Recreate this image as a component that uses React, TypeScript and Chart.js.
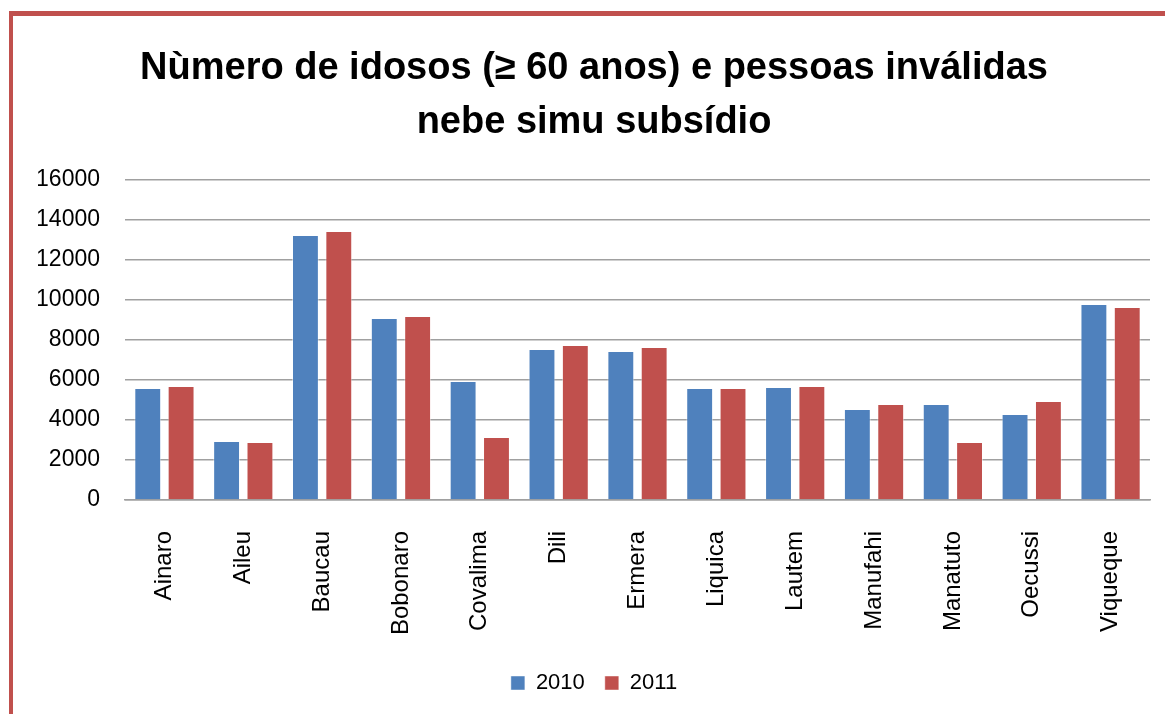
import React, { useEffect, useRef } from "react";
import { Chart, registerables } from "chart.js";

Chart.register(...registerables);

const categories = [
  "Ainaro", "Aileu", "Baucau", "Bobonaro", "Covalima", "Dili", "Ermera",
  "Liquica", "Lautem", "Manufahi", "Manatuto", "Oecussi", "Viqueque",
];
const values2010 = [5600, 2950, 13250, 9100, 5950, 7550, 7450, 5600, 5650, 4550, 4800, 4300, 9800];
const values2011 = [5700, 2900, 13450, 9200, 3150, 7750, 7650, 5600, 5700, 4800, 2900, 4950, 9650];
const seriesLabels = ["2010", "2011"];
const titleLines = ["Nùmero de idosos (≥ 60 anos) e pessoas inválidas", "nebe simu subsídio"];
const yMin = 0;
const yMax = 16000;
const yStep = 2000;

const FONT = '"Liberation Sans", Arial, sans-serif';

export default function App() {
  const canvasRef = useRef<HTMLCanvasElement | null>(null);

  useEffect(() => {
    const canvas = canvasRef.current;
    if (!canvas) return;
    const chart = new Chart(canvas, {
      type: "bar",
      data: {
        labels: categories,
        datasets: [
          {
            label: seriesLabels[0],
            data: values2010,
            backgroundColor: "#4F81BD",
            borderColor: "rgba(255,255,255,0.45)",
            borderWidth: 1,
            categoryPercentage: 0.846,
            barPercentage: 0.806,
          },
          {
            label: seriesLabels[1],
            data: values2011,
            backgroundColor: "#C0504D",
            borderColor: "rgba(255,255,255,0.45)",
            borderWidth: 1,
            categoryPercentage: 0.846,
            barPercentage: 0.806,
          },
        ],
      },
      options: {
        responsive: false,
        animation: false,
        layout: { padding: { left: 38, right: 15, top: 0, bottom: 10 } },
        plugins: {
          tooltip: { enabled: false },
          title: {
            display: true,
            text: titleLines,
            color: "#000",
            font: { family: FONT, size: 38, weight: "bold", lineHeight: 1.42 },
            padding: { top: 42, bottom: 30 },
          },
          legend: {
            display: true,
            position: "bottom",
            labels: {
              color: "#000",
              font: { family: FONT, size: 22 },
              boxWidth: 14,
              boxHeight: 14,
              padding: 20,
            },
          },
        },
        scales: {
          x: {
            grid: { display: false, drawTicks: false },
            border: { display: true, color: "#a0a0a0", width: 1.5 },
            ticks: {
              color: "#000",
              font: { family: FONT, size: 24 },
              maxRotation: 90,
              minRotation: 90,
              padding: 31,
              autoSkip: false,
            },
            afterFit: (scale: any) => {
              scale.height = 152;
              scale.paddingLeft = 0;
              scale.paddingRight = 0;
            },
          },
          y: {
            min: yMin,
            max: yMax,
            grid: { color: "#a0a0a0", lineWidth: 1.5, drawTicks: false },
            border: { display: false },
            ticks: {
              stepSize: yStep,
              color: "#000",
              font: { family: FONT, size: 23 },
              padding: 25,
              callback: (v: any) => String(v),
            },
            afterFit: (scale: any) => {
              scale.width = 87;
            },
          },
        },
      },
    });
    return () => chart.destroy();
  }, []);

  return (
    <div
      style={{
        position: "fixed",
        left: 0,
        top: 0,
        width: 1165,
        height: 714,
        background: "#fff",
        overflow: "hidden",
      }}
    >
      <div
        style={{
          position: "absolute",
          left: 9,
          top: 11,
          width: 1200,
          height: 760,
          borderTop: "5px solid #C0504D",
          borderLeft: "4px solid #C0504D",
          boxSizing: "border-box",
        }}
      />
      <canvas
        ref={canvasRef}
        width={1165}
        height={714}
        style={{ position: "absolute", left: 0, top: 0, width: 1165, height: 714 }}
      />
    </div>
  );
}
